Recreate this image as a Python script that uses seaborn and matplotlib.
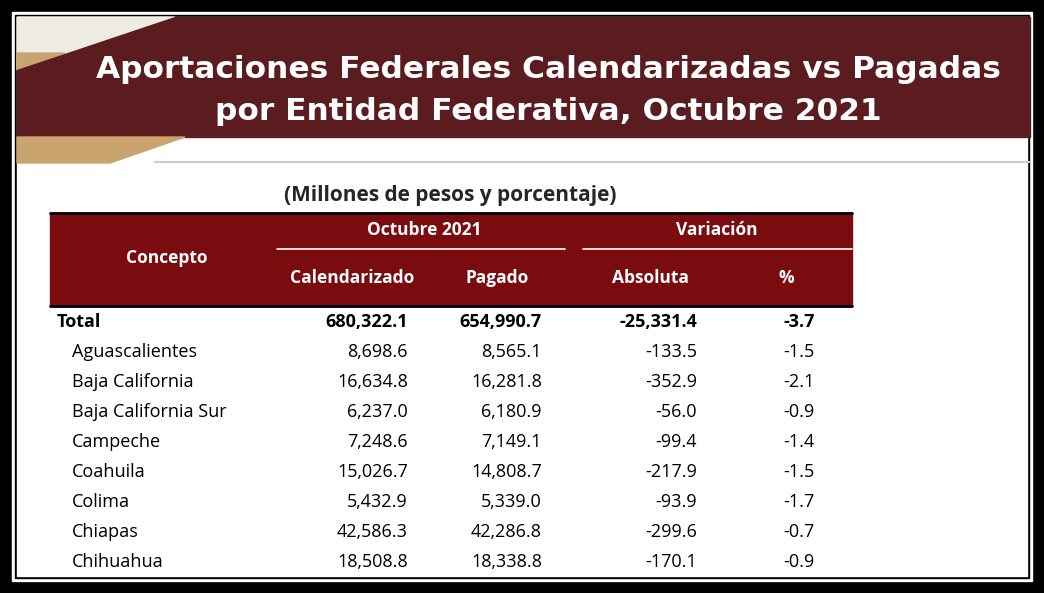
import matplotlib
matplotlib.use("Agg")
import matplotlib.pyplot as plt
import seaborn as sns
from matplotlib.patches import Polygon, Rectangle

sns.set_style("white")

title_lines = ["Aportaciones Federales Calendarizadas vs Pagadas",
               "por Entidad Federativa, Octubre 2021"]
subtitle = "(Millones de pesos y porcentaje)"
entidades = ["Total", "Aguascalientes", "Baja California", "Baja California Sur",
             "Campeche", "Coahuila", "Colima", "Chiapas", "Chihuahua"]
calendarizado = ["680,322.1", "8,698.6", "16,634.8", "6,237.0", "7,248.6",
                 "15,026.7", "5,432.9", "42,586.3", "18,508.8"]
pagado = ["654,990.7", "8,565.1", "16,281.8", "6,180.9", "7,149.1",
          "14,808.7", "5,339.0", "42,286.8", "18,338.8"]
absoluta = ["-25,331.4", "-133.5", "-352.9", "-56.0", "-99.4",
            "-217.9", "-93.9", "-299.6", "-170.1"]
porcentaje = ["-3.7", "-1.5", "-2.1", "-0.9", "-1.4", "-1.5", "-1.7", "-0.7", "-0.9"]

W, H = 1044, 593
fig = plt.figure(figsize=(W / 100, H / 100), dpi=100)
ax = fig.add_axes([0, 0, 1, 1])
ax.set_xlim(0, W)
ax.set_ylim(H, 0)
ax.axis("off")

# frame
ax.add_patch(Rectangle((0, 0), W, H, color="black"))
ax.add_patch(Rectangle((12, 12), W - 24, H - 24, color="white"))
ax.add_patch(Rectangle((15, 15), W - 30, H - 30, color="black"))
ax.add_patch(Rectangle((17, 17), W - 34, H - 34, color="white"))

# header band
maroon = "#5a1c1e"
tan = "#c9a46e"
ax.add_patch(Polygon([(17, 17), (175, 17), (17, 70)], color="#efece4"))
ax.add_patch(Polygon([(17, 53), (65, 53), (17, 70)], color=tan))
ax.add_patch(Polygon([(175, 17), (1030, 17), (1030, 137), (17, 137), (17, 70)], color=maroon))
ax.add_patch(Polygon([(17, 137), (185, 137), (110, 163), (17, 163)], color=tan))
ax.plot([155, 1030], [162, 162], color="#d8c8c8", lw=1.5)

ax.text(548, 70, title_lines[0], color="white", fontsize=22.5, fontweight="bold",
        ha="center", va="center", family="DejaVu Sans")
ax.text(548, 112, title_lines[1], color="white", fontsize=22.5, fontweight="bold",
        ha="center", va="center", family="DejaVu Sans")

fnt = "Open Sans"
ax.text(450, 196, subtitle, fontsize=15, fontweight="bold", ha="center", va="center", family=fnt)

# table header
hdr = "#7a0b0f"
ax.add_patch(Rectangle((50, 213), 802, 93, color=hdr))
ax.plot([50, 852], [213, 213], color="black", lw=2)
ax.plot([50, 852], [306, 306], color="black", lw=2)
ax.plot([277, 565], [249, 249], color="white", lw=1.2)
ax.plot([583, 852], [249, 249], color="white", lw=1.2)
hk = dict(color="white", fontsize=12.5, fontweight="bold", va="center", family=fnt)
ax.text(167, 258, "Concepto", ha="center", **hk)
ax.text(424, 230, "Octubre 2021", ha="center", **hk)
ax.text(717, 230, "Variación", ha="center", **hk)
ax.text(352, 278, "Calendarizado", ha="center", **hk)
ax.text(497, 278, "Pagado", ha="center", **hk)
ax.text(650, 278, "Absoluta", ha="center", **hk)
ax.text(786, 278, "%", ha="center", **hk)

# rows
for i, name in enumerate(entidades):
    y = 322 + 30 * i
    bold = "bold" if i == 0 else "normal"
    x0 = 57 if i == 0 else 72
    kw = dict(fontsize=13, fontweight=bold, va="center", family=fnt, color="black")
    ax.text(x0, y, name, ha="left", **kw)
    ax.text(408, y, calendarizado[i], ha="right", **kw)
    ax.text(542, y, pagado[i], ha="right", **kw)
    ax.text(697, y, absoluta[i], ha="right", **kw)
    ax.text(815, y, porcentaje[i], ha="right", **kw)

fig.savefig("out.png", dpi=100)
